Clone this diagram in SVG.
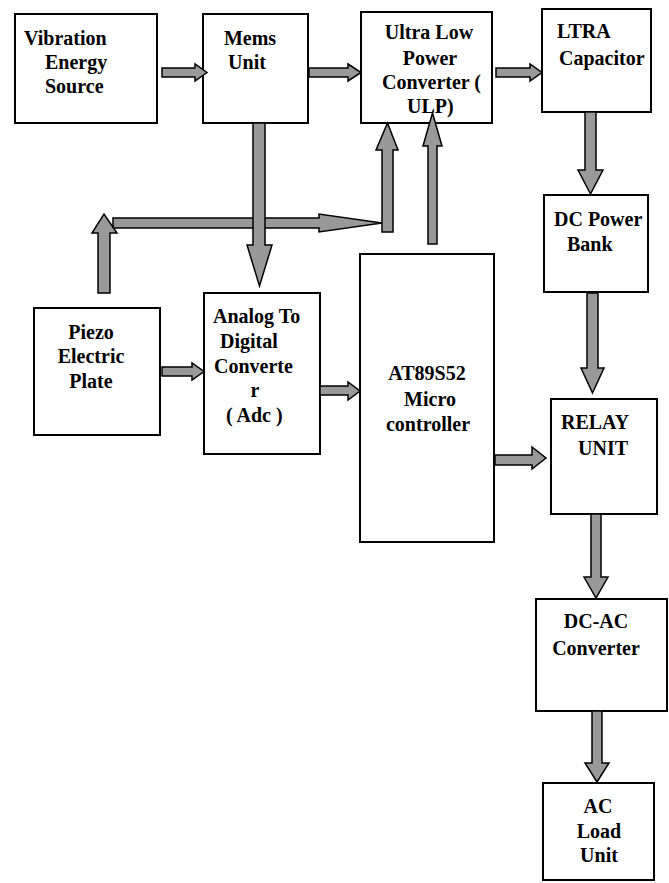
<svg xmlns="http://www.w3.org/2000/svg" width="669" height="883" viewBox="0 0 669 883">
<style>
.box{fill:#fff;stroke:#000;stroke-width:2}
.arr{fill:#999;stroke:#000;stroke-width:1.5;stroke-linejoin:miter}
text{font-family:"Liberation Serif",Tinos,"Times New Roman",Times,"Nimbus Roman","DejaVu Serif","Noto Serif",serif;font-weight:bold;font-size:20px;fill:#000}
.m{text-anchor:middle}
</style>
<rect width="669" height="883" fill="#fff"/>
<g id="vibration">
<rect class="box" x="15" y="14" width="142" height="109"/>
<text x="24" y="45">Vibration</text>
<text x="45" y="69">Energy</text>
<text x="45" y="93">Source</text>
</g>
<g id="mems">
<rect class="box" x="203" y="14" width="105" height="109"/>
<text class="m" x="250" y="45">Mems</text>
<text class="m" x="247" y="69">Unit</text>
</g>
<g id="ulp">
<rect class="box" x="361" y="12" width="131" height="111"/>
<text class="m" x="429" y="39">Ultra Low</text>
<text class="m" x="430" y="65">Power</text>
<text x="382" y="89">Converter (</text>
<text x="407" y="113">ULP)</text>
</g>
<g id="ltra">
<rect class="box" x="542" y="9" width="109" height="103"/>
<text x="557" y="38">LTRA</text>
<text x="559" y="65">Capacitor</text>
</g>
<g id="dcbank">
<rect class="box" x="544" y="195" width="104" height="97"/>
<text x="554" y="226">DC Power</text>
<text x="567" y="251">Bank</text>
</g>
<g id="relay">
<rect class="box" x="551" y="399" width="106" height="115"/>
<text x="561" y="429">RELAY</text>
<text x="578" y="455">UNIT</text>
</g>
<g id="dcac">
<rect class="box" x="536" y="599" width="131" height="112"/>
<text class="m" x="596" y="628">DC-AC</text>
<text class="m" x="596" y="655">Converter</text>
</g>
<g id="acload">
<rect class="box" x="543" y="783" width="111" height="97"/>
<text class="m" x="598" y="813">AC</text>
<text class="m" x="599" y="838">Load</text>
<text class="m" x="599" y="862">Unit</text>
</g>
<g id="piezo">
<rect class="box" x="34" y="308" width="126" height="127"/>
<text class="m" x="91" y="339">Piezo</text>
<text class="m" x="91" y="363">Electric</text>
<text class="m" x="91" y="388">Plate</text>
</g>
<g id="adc">
<rect class="box" x="204" y="293" width="116" height="161"/>
<text x="213" y="323">Analog To</text>
<text x="220" y="348">Digital</text>
<text x="214" y="373">Converte</text>
<text class="m" x="255" y="397">r</text>
<text x="226" y="422">( Adc )</text>
</g>
<g id="micro">
<rect class="box" x="360" y="254" width="134" height="288"/>
<text class="m" x="427" y="380">AT89S52</text>
<text class="m" x="430" y="406">Micro</text>
<text class="m" x="428" y="431">controller</text>
</g>
<g id="connectors">
<polygon class="arr" points="162,68 195,68 195,64 207,72.5 195,81 195,77 162,77"/>
<polygon class="arr" points="309,68 348,68 348,64 361,72.5 348,81 348,77 309,77"/>
<polygon class="arr" points="496,68 530,68 530,64 542,72.5 530,81 530,77 496,77"/>
<polygon class="arr" points="585,112 585,170 578,170 590.5,194 603,170 596,170 596,112"/>
<polygon class="arr" points="587,293 587,368 581,368 592.5,393 604,368 598,368 598,293"/>
<polygon class="arr" points="591,514 591,577 584,577 596,598 608,577 601,577 601,514"/>
<polygon class="arr" points="592,711 592,763 585,763 597,782 609,763 602,763 602,711"/>
<polygon class="arr" points="113,218 319,218 319,214 382,223 319,232 319,228 113,228"/>
<polygon class="arr" points="253,123 253,245 247,245 259.5,286 272,245 265,245 265,123"/>
<polygon class="arr" points="98,293 98,233 92,233 104,214 117,233 110,233 110,293"/>
<polygon class="arr" points="382,232 382,150 376,150 387.5,123 398,150 393,150 393,232"/>
<polygon class="arr" points="428,244 428,146 423,146 432.5,113 442,146 437,146 437,244"/>
<polygon class="arr" points="320,386 348,386 348,382 360,391 348,400 348,395 320,395"/>
<polygon class="arr" points="162,367 192,367 192,363 204,371.5 192,380 192,376 162,376"/>
<polygon class="arr" points="495,455 532,455 532,447 546,458 532,469 532,465 495,465"/>
</g>
</svg>
